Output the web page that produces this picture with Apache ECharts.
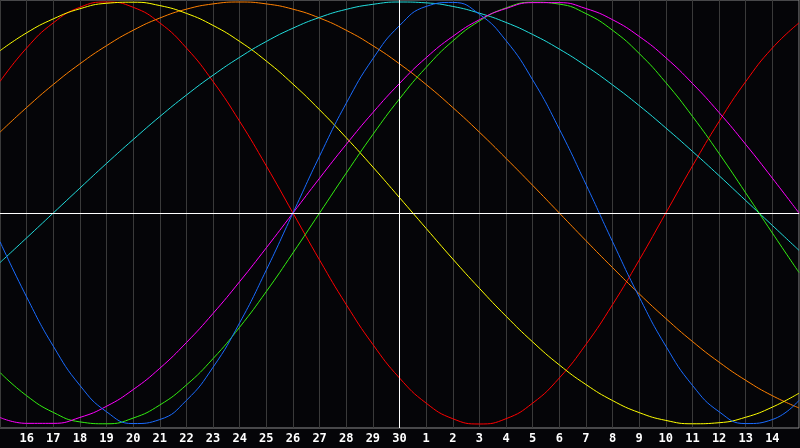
<!DOCTYPE html>
<html>
<head>
<meta charset="utf-8">
<script src="https://cdn.jsdelivr.net/npm/echarts@6/dist/echarts.min.js"></script>
<style>
html,body{margin:0;padding:0;background:#050508;}
#chart{width:800px;height:448px;}
</style>
</head>
<body>
<div id="chart"></div>
<script>
// Day labels (index 0 and 30 sit on the plot edges and are not labelled)
var days = ['15','16','17','18','19','20','21','22','23','24','25','26','27','28','29','30',
            '1','2','3','4','5','6','7','8','9','10','11','12','13','14','15'];

// Curve values in percent, read at each day
var blueVals    = [-13.6,-39.8,-63.1,-81.7,-94.2,-99.8,-97.9,-88.8,-73.1,-52.0,-27.0,0,27.0,52.0,73.1,88.8,97.9,99.8,94.2,81.7,63.1,39.8,13.6,-13.6,-39.8,-63.1,-81.7,-94.2,-99.8,-97.9,-88.8];
var redVals     = [62.3,78.2,90.1,97.5,100,97.5,90.1,78.2,62.3,43.4,22.3,0,-22.3,-43.4,-62.3,-78.2,-90.1,-97.5,-100,-97.5,-90.1,-78.2,-62.3,-43.4,-22.3,0,22.3,43.4,62.3,78.2,90.1];
var greenVals   = [-75.6,-86.6,-94.5,-99.0,-99.9,-97.2,-91.0,-81.5,-69.0,-54.1,-37.2,-18.9,0,18.9,37.2,54.1,69.0,81.5,91.0,97.2,99.9,99.0,94.5,86.6,75.6,61.8,45.8,28.2,9.5,-9.5,-28.2];
var magentaVals = [-96.9,-99.7,-99.7,-96.9,-91.6,-83.7,-73.6,-61.4,-47.6,-32.5,-16.5,0,16.5,32.5,47.6,61.4,73.6,83.7,91.6,96.9,99.7,99.7,96.9,91.6,83.7,73.6,61.4,47.6,32.5,16.5,0];
var yellowVals  = [76.9,85.4,92.0,96.8,99.4,99.9,98.3,94.6,88.9,81.3,72.0,61.1,48.9,35.7,21.8,7.3,-7.3,-21.8,-35.7,-48.9,-61.1,-72.0,-81.3,-88.9,-94.6,-98.3,-99.9,-99.4,-96.8,-92.0,-85.4];
var orangeVals  = [38.3,50.0,60.9,70.7,79.3,86.6,92.4,96.6,99.1,100,99.1,96.6,92.4,86.6,79.3,70.7,60.9,50.0,38.3,25.9,13.1,0,-13.1,-25.9,-38.3,-50.0,-60.9,-70.7,-79.3,-86.6,-92.4];
var cyanVals    = [-23.5,-11.8,0,11.8,23.5,34.8,45.7,55.9,65.3,73.8,81.3,87.6,92.7,96.5,98.9,100,99.6,97.9,94.7,90.3,84.6,77.7,69.7,60.7,50.9,40.3,29.2,17.7,5.9,-5.9,-17.7];

var seriesDefs = [
  {name:'red', data:redVals, color:'#ff0000'},
  {name:'orange', data:orangeVals, color:'#ff8000'},
  {name:'yellow', data:yellowVals, color:'#ffff00'},
  {name:'cyan', data:cyanVals, color:'#22dddd'},
  {name:'green', data:greenVals, color:'#33ee11'},
  {name:'magenta', data:magentaVals, color:'#ff00ff'},
  {name:'blue', data:blueVals, color:'#1a6cff'}
];

var series = seriesDefs.map(function(s){
  return {
    name:s.name, type:'line', data:s.data, smooth:true, showSymbol:false,
    lineStyle:{color:s.color, width:1}, itemStyle:{color:s.color},
    silent:true, z:3
  };
});
series.push({
  type:'line', data:[], silent:true, z:2,
  markLine:{
    silent:true, symbol:'none', animation:false,
    label:{show:false},
    lineStyle:{color:'#ffffff', width:1, type:'solid'},
    data:[{xAxis:15},{yAxis:0}]
  }
});

var chart = echarts.init(document.getElementById('chart'), null, {renderer:'canvas'});
chart.setOption({
  backgroundColor:'#050508',
  animation:false,
  grid:{left:0, right:1, top:0, bottom:20, show:true, borderColor:'#8c8c8c', borderWidth:1, backgroundColor:'#050508'},
  xAxis:{
    type:'category', data:days, boundaryGap:false,
    axisLine:{show:true, lineStyle:{color:'#9a9a9a'}},
    axisTick:{show:false},
    splitLine:{show:true, interval:0, lineStyle:{color:'#3a3a3a', width:1}},
    axisLabel:{
      show:true, color:'#ffffff', fontFamily:'DejaVu Sans Mono', fontWeight:'bold', fontSize:12, margin:5,
      interval:function(idx){ return idx>0 && idx<days.length-1; }
    }
  },
  yAxis:{
    type:'value', min:-101.9, max:100.95,
    axisLine:{show:false}, axisTick:{show:false}, axisLabel:{show:false}, splitLine:{show:false}
  },
  series:series
});
</script>
</body>
</html>
